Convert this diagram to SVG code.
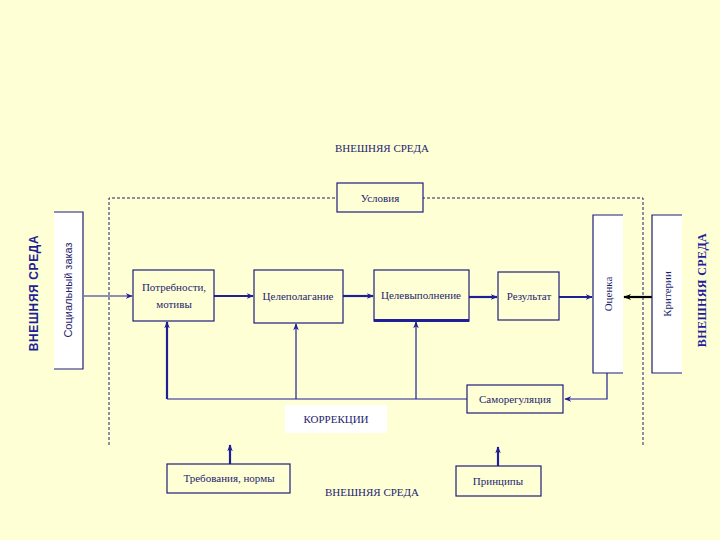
<svg xmlns="http://www.w3.org/2000/svg" width="720" height="540" viewBox="0 0 720 540">
<style>
.bg{fill:#FFFFD6}
.box{fill:#FFFFD6;stroke:#1E1E7A;stroke-width:1.2}
.wbox{fill:#FFFFFF;stroke:none}
.edge{fill:none;stroke:#1E1E7A;stroke-width:1.2}
.t{font-family:"Liberation Serif","Times New Roman",serif;font-size:11px;fill:#1E1E6E;text-anchor:middle}
.ts{font-family:"Liberation Sans",Arial,sans-serif;font-size:11px;fill:#1E1E6E;text-anchor:middle}
.env{font-family:"Liberation Serif","Times New Roman",serif;font-size:11px;fill:#1E1E6E;text-anchor:middle}
.envb{font-family:"Liberation Sans",Arial,sans-serif;font-size:12px;font-weight:bold;fill:#1E1E99;text-anchor:middle;letter-spacing:0.6px}
.envr{font-family:"Liberation Serif","Times New Roman",serif;font-size:12px;font-weight:bold;fill:#1E1E99;text-anchor:middle;letter-spacing:0.4px}
.ln{fill:none;stroke:#1E1E99;stroke-width:1.2}
.lnb{fill:none;stroke:#1E1E99;stroke-width:2.2}
.lnk{fill:none;stroke:#000000;stroke-width:2.2}
.dash{fill:none;stroke:#1E1E6E;stroke-width:1;stroke-dasharray:3,2}
</style>
<defs>
<marker id="ah" viewBox="0 0 10 10" refX="9" refY="5" markerWidth="7" markerHeight="7" markerUnits="userSpaceOnUse" orient="auto">
<path d="M0,1 L10,5 L0,9 L3,5 Z" fill="#1E1E99"/>
</marker>
<marker id="ahk" viewBox="0 0 10 10" refX="9" refY="5" markerWidth="8" markerHeight="8" markerUnits="userSpaceOnUse" orient="auto">
<path d="M0,1 L10,5 L0,9 L3,5 Z" fill="#000000"/>
</marker>
</defs>
<rect class="bg" x="0" y="0" width="720" height="540"/>

<g id="environment">
<path class="dash" d="M109,445 L109,198 L643,198 L643,445"/>
<text class="env" x="382" y="152">ВНЕШНЯЯ СРЕДА</text>
<text class="env" x="372" y="496">ВНЕШНЯЯ СРЕДА</text>
<text class="envb" transform="translate(38,293) rotate(-90)">ВНЕШНЯЯ СРЕДА</text>
<text class="envr" transform="translate(706,290) rotate(-90)">ВНЕШНЯЯ СРЕДА</text>
</g>

<g id="connectors">
<line class="ln" x1="84" y1="296" x2="132" y2="296" marker-end="url(#ah)"/>
<line class="lnb" x1="214" y1="296" x2="253" y2="296" marker-end="url(#ah)"/>
<line class="lnb" x1="343" y1="296" x2="373" y2="296" marker-end="url(#ah)"/>
<line class="lnb" x1="469" y1="297" x2="497" y2="297" marker-end="url(#ah)"/>
<line class="lnb" x1="559" y1="297" x2="592" y2="297" marker-end="url(#ah)"/>
<line class="lnk" x1="652" y1="297" x2="624" y2="297" marker-end="url(#ahk)"/>
<path class="ln" d="M607,373 L607,399 L565,399" marker-end="url(#ah)"/>
<line class="ln" x1="167" y1="399" x2="467" y2="399"/>
<line class="lnb" x1="167" y1="399" x2="167" y2="322" marker-end="url(#ah)"/>
<line class="ln" x1="296" y1="399" x2="296" y2="324" marker-end="url(#ah)"/>
<line class="ln" x1="416" y1="399" x2="416" y2="322" marker-end="url(#ah)"/>
<line class="lnb" x1="230" y1="464" x2="230" y2="445" marker-end="url(#ah)"/>
<line class="lnb" x1="498" y1="466" x2="498" y2="447" marker-end="url(#ah)"/>
</g>

<g id="usloviya">
<rect class="box" x="337" y="183" width="86" height="29"/>
<text class="t" x="380" y="202">Условия</text>
</g>

<g id="social">
<rect class="wbox" x="54" y="212" width="29" height="157"/>
<path class="edge" d="M54,212 L83,212 L83,369 L54,369"/>
<text class="ts" transform="translate(72,290) rotate(-90)">Социальный заказ</text>
</g>

<g id="needs">
<rect class="box" x="133" y="270" width="81" height="51"/>
<text class="t" x="174" y="291">Потребности,</text>
<text class="t" x="174" y="308">мотивы</text>
</g>

<g id="goalsetting">
<rect class="box" x="254" y="270" width="89" height="53"/>
<text class="t" x="298" y="300">Целеполагание</text>
</g>

<g id="goalexec">
<rect class="box" x="374" y="270" width="95" height="51"/>
<line x1="374" y1="320.5" x2="469" y2="320.5" stroke="#1E1E99" stroke-width="3"/>
<text class="t" x="421" y="299">Целевыполнение</text>
</g>

<g id="result">
<rect class="box" x="498" y="272" width="61" height="48"/>
<text class="t" x="529" y="300">Результат</text>
</g>

<g id="otsenka">
<rect class="wbox" x="593" y="215" width="30" height="158"/>
<path class="edge" d="M623,215 L593,215 L593,373 L623,373"/>
<text class="t" transform="translate(612,294) rotate(-90)">Оценка</text>
</g>

<g id="kriterii">
<rect class="wbox" x="652" y="215" width="30" height="158"/>
<path class="edge" d="M682,215 L652,215 L652,373 L682,373"/>
<text class="t" transform="translate(671,294) rotate(-90)">Критерии</text>
</g>

<g id="samoreg">
<rect class="box" x="467" y="385" width="96" height="28"/>
<text class="t" x="515" y="403">Саморегуляция</text>
</g>

<g id="korrekcii">
<rect class="wbox" x="285" y="405" width="102" height="28"/>
<text class="t" x="336" y="423">КОРРЕКЦИИ</text>
</g>

<g id="trebovaniya">
<rect class="box" x="167" y="464" width="123" height="29"/>
<text class="t" x="229" y="482">Требования, нормы</text>
</g>

<g id="principy">
<rect class="box" x="456" y="466" width="85" height="30"/>
<text class="t" x="498" y="485">Принципы</text>
</g>
</svg>
